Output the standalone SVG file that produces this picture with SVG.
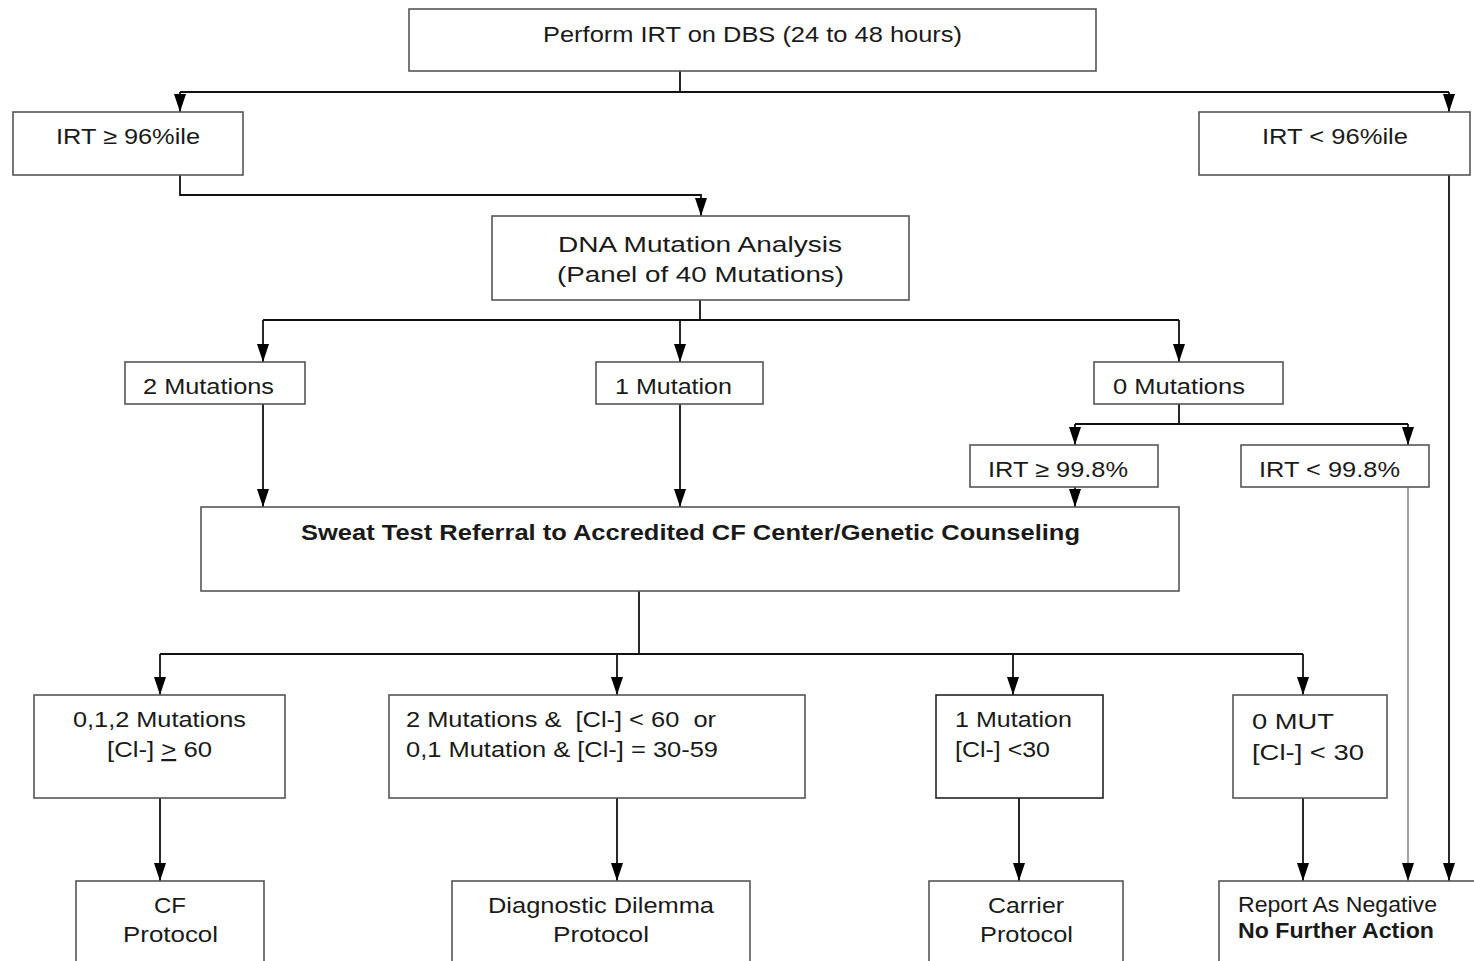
<svg xmlns="http://www.w3.org/2000/svg" width="1474" height="961" viewBox="0 0 1474 961">
<defs>
<marker id="ah" viewBox="0 0 18 12" refX="18" refY="6" markerWidth="18" markerHeight="12" markerUnits="userSpaceOnUse" orient="auto">
<path d="M0,0 L18,6 L0,12 z" fill="#000"/>
</marker>
<style>
.box{fill:#fff;stroke:#555;stroke-width:1.6}
.dk{stroke:#222}
.t{font-family:"Liberation Sans",Arial,sans-serif;font-size:22px;fill:#1a1a1a}
.b{font-weight:bold}
.c{text-anchor:middle}
.ln{fill:none;stroke:#111;stroke-width:1.8}
.gr{stroke:#999}
</style>
</defs>
<rect width="1474" height="961" fill="#fff"/>
<g id="connectors">
<path class="ln" d="M680,71 V92 M180,92 H1449"/>
<path class="ln" d="M180,92 V112" marker-end="url(#ah)"/>
<path class="ln" d="M1449,92 V112" marker-end="url(#ah)"/>
<path class="ln" d="M180,175 V195 H701 V216" marker-end="url(#ah)"/>
<path class="ln" d="M700,300 V320 M263,320 H1179"/>
<path class="ln" d="M263,320 V362" marker-end="url(#ah)"/>
<path class="ln" d="M680,320 V362" marker-end="url(#ah)"/>
<path class="ln" d="M1179,320 V362" marker-end="url(#ah)"/>
<path class="ln" d="M263,404 V507" marker-end="url(#ah)"/>
<path class="ln" d="M680,404 V507" marker-end="url(#ah)"/>
<path class="ln" d="M1179,404 V424 M1075,424 H1408"/>
<path class="ln" d="M1075,424 V445" marker-end="url(#ah)"/>
<path class="ln" d="M1408,424 V445" marker-end="url(#ah)"/>
<path class="ln" d="M1075,487 V507" marker-end="url(#ah)"/>
<path class="ln gr" d="M1408,487 V881" marker-end="url(#ah)"/>
<path class="ln" d="M1449,175 V881" marker-end="url(#ah)"/>
<path class="ln" d="M639,591 V654 M160,654 H1303"/>
<path class="ln" d="M160,654 V695" marker-end="url(#ah)"/>
<path class="ln" d="M617,654 V695" marker-end="url(#ah)"/>
<path class="ln" d="M1013,654 V695" marker-end="url(#ah)"/>
<path class="ln" d="M1303,654 V695" marker-end="url(#ah)"/>
<path class="ln" d="M160,798 V881" marker-end="url(#ah)"/>
<path class="ln" d="M617,798 V881" marker-end="url(#ah)"/>
<path class="ln" d="M1019,798 V881" marker-end="url(#ah)"/>
<path class="ln" d="M1303,798 V881" marker-end="url(#ah)"/>
</g>
<g id="n-start">
<rect class="box" x="409" y="9" width="687" height="62"/>
<text class="t c" x="752.5" y="42" font-size="25" textLength="419" lengthAdjust="spacingAndGlyphs">Perform IRT on DBS (24 to 48 hours)</text>
</g>
<g id="n-irt-high">
<rect class="box" x="13" y="112" width="230" height="63"/>
<text class="t" x="56" y="144" textLength="144" lengthAdjust="spacingAndGlyphs">IRT ≥ 96%ile</text>
</g>
<g id="n-irt-low">
<rect class="box" x="1199" y="112" width="271" height="63"/>
<text class="t" x="1262" y="144" textLength="146" lengthAdjust="spacingAndGlyphs">IRT &lt; 96%ile</text>
</g>
<g id="n-dna">
<rect class="box" x="492" y="216" width="417" height="84"/>
<text class="t c" x="700" y="252" font-size="26" textLength="284" lengthAdjust="spacingAndGlyphs">DNA Mutation Analysis</text>
<text class="t c" x="700.5" y="282" font-size="26" textLength="287" lengthAdjust="spacingAndGlyphs">(Panel of 40 Mutations)</text>
</g>
<g id="n-2mut">
<rect class="box" x="125" y="362" width="180" height="42"/>
<text class="t" x="143" y="394" textLength="131" lengthAdjust="spacingAndGlyphs">2 Mutations</text>
</g>
<g id="n-1mut">
<rect class="box" x="596" y="362" width="167" height="42"/>
<text class="t" x="615" y="394" textLength="117" lengthAdjust="spacingAndGlyphs">1 Mutation</text>
</g>
<g id="n-0mut">
<rect class="box" x="1094" y="362" width="189" height="42"/>
<text class="t" x="1113" y="394" textLength="132" lengthAdjust="spacingAndGlyphs">0 Mutations</text>
</g>
<g id="n-irt998-high">
<rect class="box" x="970" y="445" width="188" height="42"/>
<text class="t" x="988" y="477" textLength="140" lengthAdjust="spacingAndGlyphs">IRT ≥ 99.8%</text>
</g>
<g id="n-irt998-low">
<rect class="box" x="1241" y="445" width="188" height="42"/>
<text class="t" x="1259" y="477" textLength="141" lengthAdjust="spacingAndGlyphs">IRT &lt; 99.8%</text>
</g>
<g id="n-sweat">
<rect class="box" x="201" y="507" width="978" height="84"/>
<text class="t b" x="301" y="540" textLength="779" lengthAdjust="spacingAndGlyphs">Sweat Test Referral to Accredited CF Center/Genetic Counseling</text>
</g>
<g id="n-cf-result">
<rect class="box" x="34" y="695" width="251" height="103"/>
<text class="t c" x="159.5" y="727" textLength="173" lengthAdjust="spacingAndGlyphs">0,1,2 Mutations</text>
<text class="t" x="107" y="757" textLength="105" lengthAdjust="spacingAndGlyphs">[Cl-] <tspan text-decoration="underline">&gt;</tspan> 60</text>
</g>
<g id="n-dilemma-result">
<rect class="box" x="389" y="695" width="416" height="103"/>
<text class="t" x="406" y="727" textLength="310" lengthAdjust="spacingAndGlyphs" xml:space="preserve">2 Mutations &amp;  [Cl-] &lt; 60  or</text>
<text class="t" x="406" y="757" textLength="312" lengthAdjust="spacingAndGlyphs">0,1 Mutation &amp; [Cl-] = 30-59</text>
</g>
<g id="n-carrier-result">
<rect class="box dk" x="936" y="695" width="167" height="103"/>
<text class="t" x="955" y="727" textLength="117" lengthAdjust="spacingAndGlyphs">1 Mutation</text>
<text class="t" x="955" y="757" textLength="95" lengthAdjust="spacingAndGlyphs">[Cl-] &lt;30</text>
</g>
<g id="n-neg-result">
<rect class="box" x="1233" y="695" width="154" height="103"/>
<text class="t" x="1252" y="729" font-size="26" textLength="82" lengthAdjust="spacingAndGlyphs">0 MUT</text>
<text class="t" x="1252" y="760" font-size="26" textLength="112" lengthAdjust="spacingAndGlyphs">[Cl-] &lt; 30</text>
</g>
<g id="n-cf-protocol">
<rect class="box" x="76" y="881" width="188" height="90"/>
<text class="t c" x="170" y="913" textLength="32" lengthAdjust="spacingAndGlyphs">CF</text>
<text class="t c" x="170.5" y="942" textLength="95" lengthAdjust="spacingAndGlyphs">Protocol</text>
</g>
<g id="n-dilemma-protocol">
<rect class="box" x="452" y="881" width="298" height="90"/>
<text class="t c" x="601" y="913" textLength="226" lengthAdjust="spacingAndGlyphs">Diagnostic Dilemma</text>
<text class="t c" x="601" y="942" textLength="96" lengthAdjust="spacingAndGlyphs">Protocol</text>
</g>
<g id="n-carrier-protocol">
<rect class="box" x="929" y="881" width="194" height="90"/>
<text class="t c" x="1026" y="913" textLength="76" lengthAdjust="spacingAndGlyphs">Carrier</text>
<text class="t c" x="1026.5" y="942" textLength="93" lengthAdjust="spacingAndGlyphs">Protocol</text>
</g>
<g id="n-report-negative">
<rect class="box" x="1219" y="881" width="270" height="90"/>
<text class="t" x="1238" y="912" font-size="20" textLength="199" lengthAdjust="spacingAndGlyphs">Report As Negative</text>
<text class="t b" x="1238" y="938" font-size="20" textLength="196" lengthAdjust="spacingAndGlyphs">No Further Action</text>
</g>
</svg>
